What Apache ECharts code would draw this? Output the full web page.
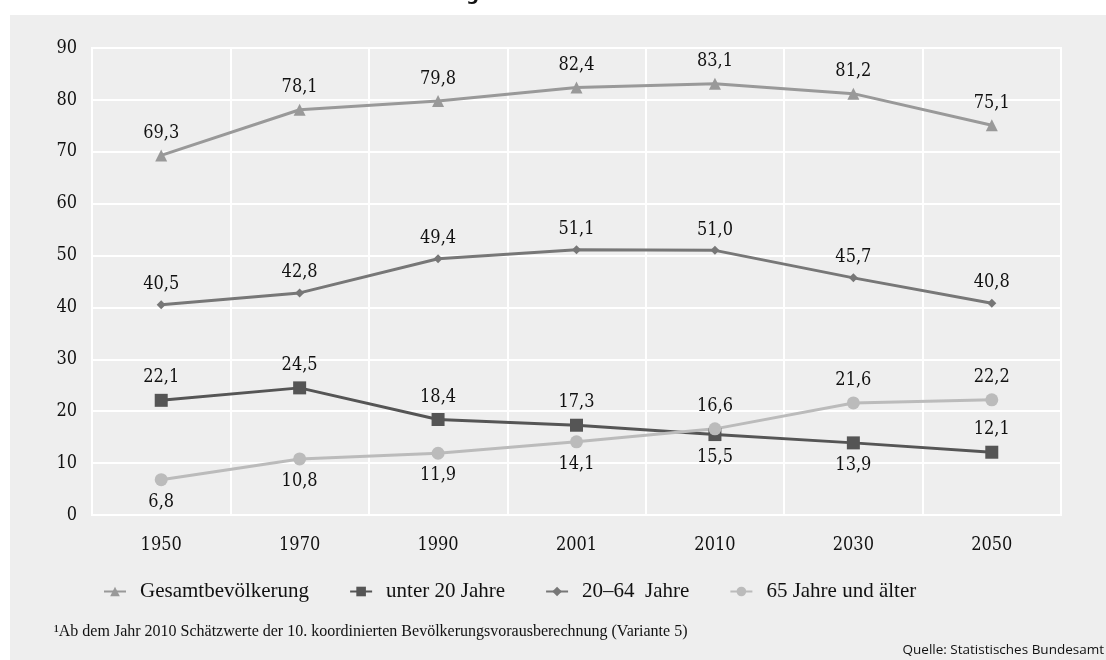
<!DOCTYPE html>
<html>
<head>
<meta charset="utf-8">
<script src="https://cdn.jsdelivr.net/npm/echarts@6/dist/echarts.min.js"></script>
<style>
  html, body { margin: 0; padding: 0; background: #ffffff; }
  #chart { width: 1106px; height: 660px; }
</style>
</head>
<body>
<div id="chart"></div>
<script>
// Bevölkerung Deutschlands nach Altersgruppen, in Millionen
const years = ['1950', '1970', '1990', '2001', '2010', '2030', '2050'];
const yTicks = [0, 10, 20, 30, 40, 50, 60, 70, 80, 90];

const gesamt    = [69.3, 78.1, 79.8, 82.4, 83.1, 81.2, 75.1];
const unter20   = [22.1, 24.5, 18.4, 17.3, 15.5, 13.9, 12.1];
const mittel    = [40.5, 42.8, 49.4, 51.1, 51.0, 45.7, 40.8];
const ab65      = [6.8, 10.8, 11.9, 14.1, 16.6, 21.6, 22.2];

// label side per point for the two crossing lower series
const unter20Pos = ['top', 'top', 'top', 'top', 'bottom', 'bottom', 'top'];
const ab65Pos    = ['bottom', 'bottom', 'bottom', 'bottom', 'top', 'top', 'top'];

const serifNum = '"DejaVu Serif Condensed", "DejaVu Serif", serif';
const serifText = '"Liberation Serif", serif';
const fmt = v => v.toFixed(1).replace('.', ',');

function points(values, positions) {
  return values.map((v, i) => ({
    value: v,
    label: positions ? { position: positions[i] } : undefined
  }));
}

function lineSeries(name, values, color, symbol, size, positions) {
  return {
    name: name,
    type: 'line',
    data: points(values, positions),
    symbol: symbol,
    symbolSize: size,
    lineStyle: { color: color, width: 3 },
    itemStyle: { color: color },
    label: {
      show: true,
      position: 'top',
      distance: 7,
      fontFamily: serifNum,
      fontSize: 18,
      color: '#111',
      formatter: p => fmt(p.value)
    },
    emphasis: { disabled: true },
    animation: false
  };
}

const chart = echarts.init(document.getElementById('chart'));
chart.setOption({
  backgroundColor: '#ffffff',
  graphic: [
    { type: 'rect', shape: { x: 10, y: 15, width: 1096, height: 645 },
      style: { fill: '#eeeeee' }, z: -10, silent: true },
    { type: 'text', x: 10, y: 4,
      style: { text: 'Die Altersstruktur der deutschen Bevölkerung in Mio.',
               font: 'bold 18px "DejaVu Sans"', fill: '#111', verticalAlign: 'bottom' } },
    { type: 'text', x: 54, y: 632,
      style: { text: '¹Ab dem Jahr 2010 Schätzwerte der 10. koordinierten Bevölkerungsvorausberechnung (Variante 5)',
               font: '16px "Liberation Serif"', fill: '#111', verticalAlign: 'middle' } },
    { type: 'text', x: 1104, y: 650,
      style: { text: 'Quelle: Statistisches Bundesamt',
               font: '13.5px "Open Sans"', fill: '#111', align: 'right', verticalAlign: 'middle' } }
  ],
  grid: {
    left: 92, right: 45, top: 48, bottom: 145,
    show: true, borderColor: '#ffffff', borderWidth: 2, backgroundColor: 'transparent'
  },
  legend: {
    left: 98, top: 576,
    itemWidth: 22, itemHeight: 12, itemGap: 40,
    textStyle: { fontFamily: serifText, fontSize: 21, color: '#111', padding: [0, 0, 0, 9] },
    data: ['Gesamtbevölkerung', 'unter 20 Jahre', '20–64  Jahre', '65 Jahre und älter']
  },
  xAxis: {
    type: 'category',
    data: years,
    boundaryGap: true,
    axisLine: { show: false },
    axisTick: { show: false },
    splitLine: { show: true, lineStyle: { color: '#ffffff', width: 2 } },
    axisLabel: { fontFamily: serifNum, fontSize: 18, color: '#111', margin: 21 }
  },
  yAxis: {
    type: 'value',
    min: yTicks[0], max: yTicks[yTicks.length - 1], interval: 10,
    axisLine: { show: false },
    axisTick: { show: false },
    splitLine: { show: true, lineStyle: { color: '#ffffff', width: 2 } },
    axisLabel: { fontFamily: serifNum, fontSize: 18, color: '#111', margin: 15 }
  },
  series: [
    lineSeries('Gesamtbevölkerung', gesamt, '#999999', 'triangle', 12),
    lineSeries('unter 20 Jahre', unter20, '#555555', 'rect', 13, unter20Pos),
    lineSeries('20–64  Jahre', mittel, '#777777', 'diamond', 9),
    lineSeries('65 Jahre und älter', ab65, '#bbbbbb', 'circle', 13, ab65Pos)
  ]
});
</script>
</body>
</html>
